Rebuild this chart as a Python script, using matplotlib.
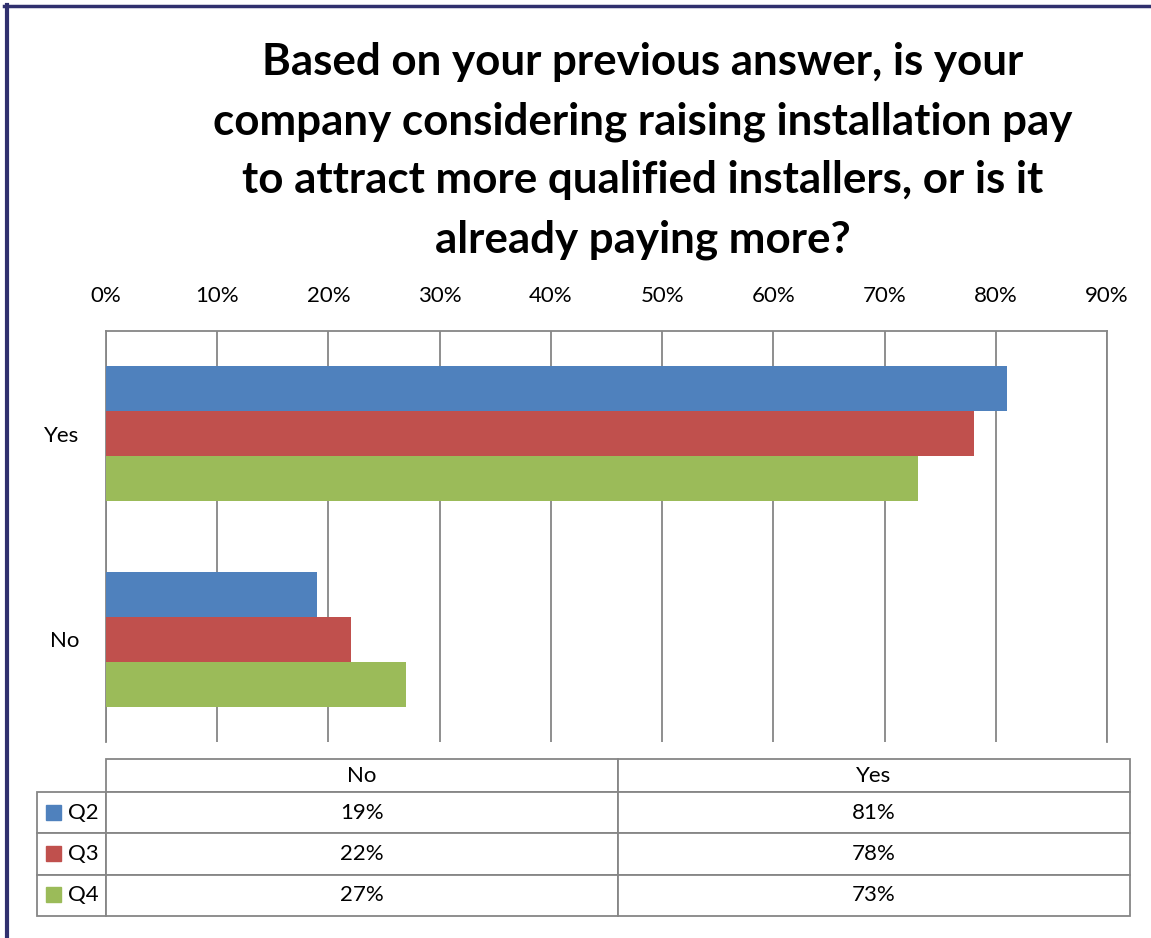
import numpy as np
import matplotlib.pyplot as plt
from matplotlib.lines import Line2D
from matplotlib.patches import Rectangle

plt.rcParams['font.family'] = ['Lato', 'DejaVu Sans']

answers = ['No', 'Yes']
quarters = ['Q2', 'Q3', 'Q4']
q2 = [19, 81]
q3 = [22, 78]
q4 = [27, 73]
colors = ['#4F81BD', '#C0504D', '#9BBB59']
x_ticks = [0, 10, 20, 30, 40, 50, 60, 70, 80, 90]

title = ("Based on your previous answer, is your\n"
         "company considering raising installation pay\n"
         "to attract more qualified installers, or is it\n"
         "already paying more?")

W, H = 1151, 938
fig = plt.figure(figsize=(W / 100, H / 100), dpi=100)

grid_c = '#868686'

# main bar axes
ax = fig.add_axes([106 / W, 1 - 742 / H, 1001 / W, 411 / H])
series = [q2, q3, q4]
bh = 0.219
offs = [bh, 0, -bh]
ypos = np.arange(len(answers))
for vals, off, c in zip(series, offs, colors):
    ax.barh(ypos + off, vals, height=bh, color=c, zorder=3)

ax.set_xlim(0, 90)
ax.set_ylim(-0.5, 1.5)
ax.set_xticks(x_ticks)
ax.set_xticklabels(['%d%%' % v for v in x_ticks])
ax.xaxis.tick_top()
ax.set_yticks(ypos)
ax.set_yticklabels(answers)
ax.tick_params(axis='x', length=0, pad=18, labelsize=16)
ax.tick_params(axis='y', length=0, pad=19, labelsize=16)
ax.grid(axis='x', color=grid_c, linewidth=1.3, zorder=0)
for s in ['left', 'top', 'right']:
    ax.spines[s].set_color(grid_c)
    ax.spines[s].set_linewidth(1.3)
ax.spines['bottom'].set_visible(False)

fig.text(643 / W, 1 - 151 / H, title, ha='center', va='center',
         fontsize=31.6, fontweight='bold', linespacing=1.57)

# data table under the chart
tax = fig.add_axes([37 / W, 1 - 916 / H, 1093 / W, 157 / H])
tax.axis('off')
cell_text = [['', answers[0], answers[1]]]
for q, vals in zip(quarters, series):
    cell_text.append([q, '%d%%' % vals[0], '%d%%' % vals[1]])
tab = tax.table(cellText=cell_text, colWidths=[69, 512, 512],
                cellLoc='center', bbox=[0, 0, 1, 1])
tab.auto_set_font_size(False)
tab.set_fontsize(16)
row_h = [33, 41, 41, 41]
for (r, c), cell in tab.get_celld().items():
    cell.set_height(row_h[r])
    cell.set_edgecolor(grid_c)
    cell.set_linewidth(1.3)
    if r == 0 and c == 0:
        cell.visible_edges = ''
    if c == 0 and r > 0:
        cell.get_text().set_ha('left')
        cell._loc = 'left'
        cell.PAD = 0.45

# colour keys in the row labels
for i, c in enumerate(colors):
    yc = 1 - (33 + 41 * i + 20.5) / 157
    tax.add_patch(Rectangle((9 / 1093, yc - 7.5 / 157), 15 / 1093, 15 / 157,
                            color=c, transform=tax.transAxes, clip_on=False))

# outer frame
navy = '#30306E'
fig.add_artist(Line2D([4 / W, 1], [1 - 6 / H, 1 - 6 / H], color=navy,
                      linewidth=2.5, transform=fig.transFigure))
fig.add_artist(Line2D([6.5 / W, 6.5 / W], [0, 1 - 5 / H], color=navy,
                      linewidth=3, transform=fig.transFigure))

fig.savefig('out.png', dpi=100)
